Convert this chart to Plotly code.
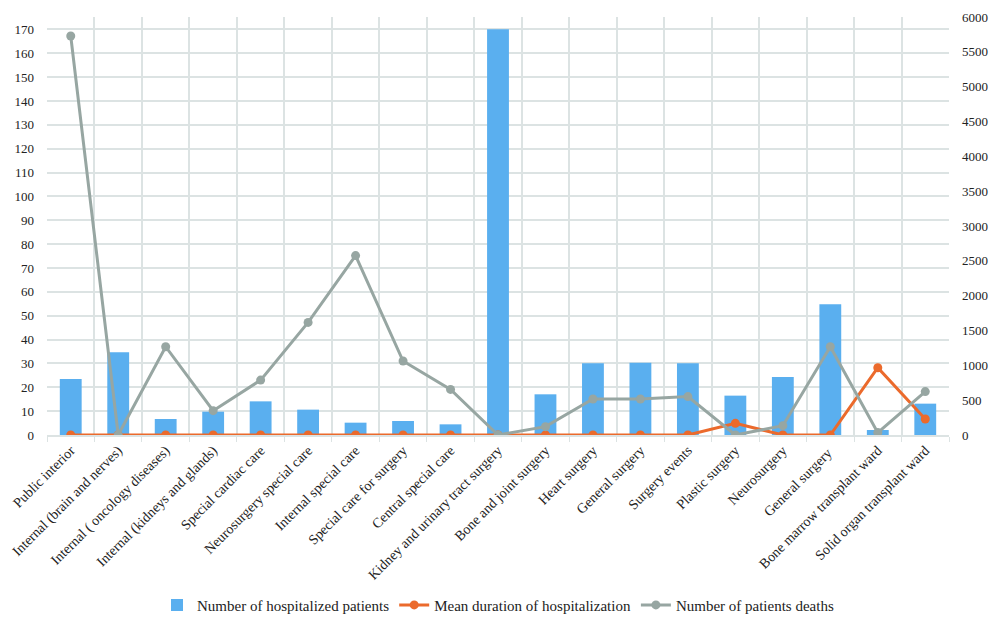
import plotly.graph_objects as go

categories = [
    "Public interior", "Internal (brain and nerves)", "Internal ( oncology diseases)",
    "Internal (kidneys and glands)", "Special cardiac care", "Neurosurgery special care",
    "Internal special care", "Special care for surgery", "Central special care",
    "Kidney and urinary tract surgery", "Bone and joint surgery", "Heart surgery",
    "General surgery", "Surgery events", "Plastic surgery", "Neurosurgery",
    "General surgery ", "Bone marrow transplant ward", "Solid organ transplant ward",
]
hospitalized = [804, 1187, 230, 335, 483, 364, 177, 201, 153, 5823, 584, 1029, 1038,
                1029, 565, 833, 1876, 72, 450]
mean_duration = [0, 0, 0, 0, 0, 0, 0, 0, 0, 0, 0, 0, 0, 0, 4.9, 0, 0, 28.2, 6.7]
deaths = [167.2, 0, 37.0, 10.2, 23.0, 47.2, 75.2, 31.0, 19.1, 0, 3.5, 15.1, 15.1,
          16.1, 0, 3.9, 37.0, 1.0, 18.2]
left_ticks = list(range(0, 171, 10))
right_ticks = list(range(0, 6001, 500))

BLUE = "#5AAFEF"
ORANGE = "#EB6A2C"
GRAY = "#97A6A2"
GRID = "#DCE3E3"
FONT = "Liberation Serif"

fig = go.Figure()
fig.add_trace(go.Bar(x=categories, y=hospitalized, name="Number of hospitalized patients",
                     marker=dict(color=BLUE, line=dict(width=0)), yaxis="y"))
fig.add_trace(go.Scatter(x=categories, y=mean_duration, name="Mean duration of hospitalization",
                         mode="lines+markers", line=dict(color=ORANGE, width=3),
                         marker=dict(color=ORANGE, size=9), yaxis="y2"))
fig.add_trace(go.Scatter(x=categories, y=deaths, name="Number of patients deaths",
                         mode="lines+markers", line=dict(color=GRAY, width=3),
                         marker=dict(color=GRAY, size=9), yaxis="y2"))

fig.update_layout(
    width=1000, height=630,
    margin=dict(l=39, r=59, t=9, b=203, autoexpand=False),
    paper_bgcolor="white", plot_bgcolor="white",
    font=dict(family=FONT, size=13, color="#222"),
    bargap=0.54,
    showlegend=True,
    legend=dict(orientation="h", x=0.5, xanchor="center", y=-0.407, yanchor="middle",
                font=dict(family=FONT, size=15, color="#222"), traceorder="normal"),
    xaxis=dict(type="category", range=[-0.5, len(categories) - 0.5],
               tickson="boundaries", showgrid=True, gridcolor=GRID,
               gridwidth=1.5, tickangle=-45, ticks="outside", ticklen=5, tickcolor=GRID,
               showline=True, linecolor=GRID, linewidth=1.5, automargin=False,
               tickfont=dict(family=FONT, size=14, color="#222")),
    yaxis=dict(side="right", range=[0, 6000], tickvals=right_ticks, showgrid=False,
               zeroline=False, automargin=False,
               tickfont=dict(family=FONT, size=13, color="#222"),
               ticklabelstandoff=12),
    yaxis2=dict(side="left", overlaying="y", range=[0, 6000 / 34.25], tickvals=left_ticks,
                showgrid=True, gridcolor=GRID, gridwidth=1.5, zeroline=False, automargin=False,
                ticklabelstandoff=12,
                tickfont=dict(family=FONT, size=13, color="#222")),
)

fig.write_html("out.html")
